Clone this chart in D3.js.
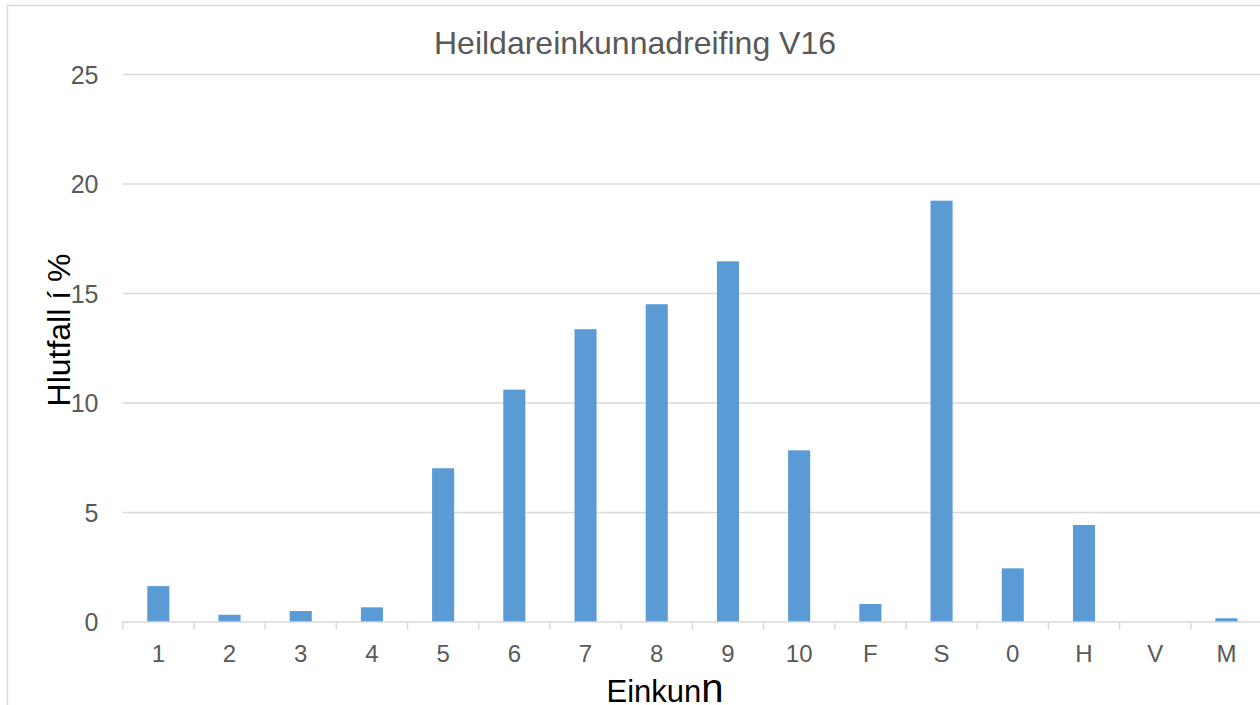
<!DOCTYPE html>
<html>
<head>
<meta charset="utf-8">
<script src="https://cdn.jsdelivr.net/npm/d3@7"></script>
<style>
html,body{margin:0;padding:0;background:#fff;overflow:hidden;}
svg{display:block;font-family:"Liberation Sans",Arial,sans-serif;}
</style>
</head>
<body>
<svg id="c" width="1260" height="705"></svg>
<script>
const categories = ["1","2","3","4","5","6","7","8","9","10","F","S","0","H","V","M"];
const values = [1.64,0.33,0.50,0.67,7.02,10.61,13.37,14.51,16.47,7.84,0.82,19.24,2.45,4.43,0,0.17];
const yTicks = [0,5,10,15,20,25];
const titleText = "Heildareinkunnadreifing V16";
const yLabel = "Hlutfall í %";
const xLabel = "Einkunn";

const svg = d3.select("#c");
svg.append("rect").attr("x",7.5).attr("y",5.5).attr("width",1256).attr("height",730)
  .attr("fill","#fff").attr("stroke","#d9d9d9").attr("stroke-width",1.5);

const x = d3.scaleBand().domain(categories).range([122.7,1262]).paddingInner(0.69).paddingOuter(0.345);
const y = d3.scaleLinear().domain([0,25]).range([622,74.5]);

// gridlines
svg.append("g").selectAll("line").data(yTicks.filter(d=>d>0)).join("line")
  .attr("x1",122.7).attr("x2",1262).attr("y1",d=>y(d)).attr("y2",d=>y(d))
  .attr("stroke","#d9d9d9").attr("stroke-width",1.5);

// y axis labels
const ya = svg.append("g").attr("transform","translate(98.5,0)")
  .call(d3.axisLeft(y).tickValues(yTicks).tickSize(0).tickPadding(0).tickFormat(d3.format("d")));
ya.select(".domain").remove();
ya.selectAll("text").attr("font-size",25).attr("fill","#595959").attr("font-family","Liberation Sans, Arial, sans-serif").attr("dy","0.35em");

// bars
svg.append("g").selectAll("rect").data(values).join("rect")
  .attr("x",(d,i)=>x(categories[i])).attr("width",x.bandwidth())
  .attr("y",d=>y(d)).attr("height",d=>y(0)-y(d))
  .attr("fill","#5b9bd5");

// x axis
const step = x.step();
const xa = svg.append("g").attr("transform","translate(0,622)")
  .call(d3.axisBottom(x).tickSize(0).tickPadding(32));
xa.select(".domain").attr("stroke","#d9d9d9").attr("stroke-width",1.5).attr("d","M122.7,0H1262");
xa.selectAll("text").attr("font-size",24).attr("fill","#595959").attr("font-family","Liberation Sans, Arial, sans-serif").attr("dy","0.35em");
// category boundary tick marks
svg.append("g").selectAll("line").data(categories).join("line")
  .attr("x1",d=>x(d)+x.bandwidth()/2-step/2).attr("x2",d=>x(d)+x.bandwidth()/2-step/2)
  .attr("y1",622).attr("y2",629.5).attr("stroke","#d9d9d9").attr("stroke-width",1.5);

// title
svg.append("text").attr("x",635).attr("y",53.5).attr("text-anchor","middle")
  .attr("font-size",32).attr("fill","#595959").text(titleText);

// y label
svg.append("text").attr("transform","translate(70,330) rotate(-90)").attr("text-anchor","middle")
  .attr("font-size",32).attr("fill","#000").text(yLabel);

// x label
const xl = svg.append("text").attr("x",665).attr("y",701.5).attr("text-anchor","middle")
  .attr("font-size",31).attr("fill","#000");
xl.append("tspan").text(xLabel.slice(0,-1));
xl.append("tspan").attr("font-size",40).text(xLabel.slice(-1));
</script>
</body>
</html>
